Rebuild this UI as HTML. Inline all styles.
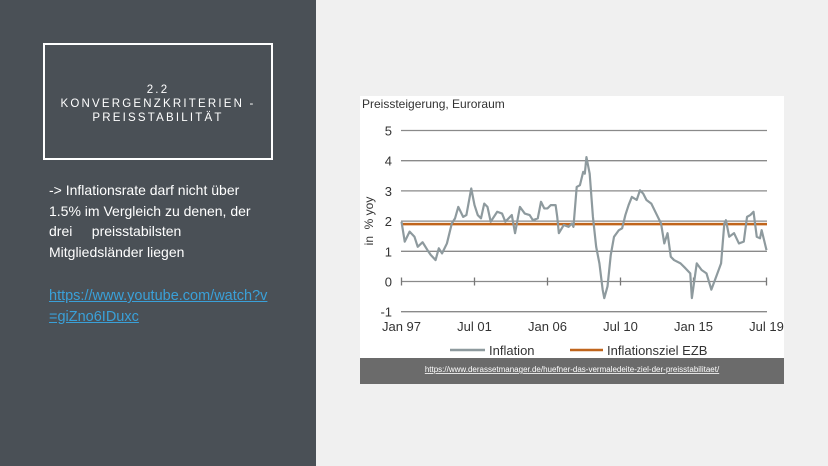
<!DOCTYPE html>
<html><head><meta charset="utf-8"><style>
body{margin:0;width:828px;height:466px;overflow:hidden;background:#f0f0f0;font-family:"Liberation Sans",sans-serif;position:relative}
#left{position:absolute;left:0;top:0;width:316px;height:466px;background:#4a5056}
#box{position:absolute;left:43px;top:43px;width:226px;height:113px;border:2px solid #fff;color:#fff;font-size:11.5px;letter-spacing:2.2px;text-align:center;line-height:14px;box-sizing:content-box}
#box div{padding-top:38px}
#txt{position:absolute;left:49px;top:180px;color:#fff;font-size:14px;line-height:20.5px;width:260px;white-space:nowrap}
#lnk{position:absolute;left:49px;top:286px;color:#3aa0d8;font-size:14.5px;line-height:20.5px;text-decoration:underline}
svg{position:absolute;left:0;top:0}
</style></head><body>
<div id="left"></div>
<div id="box"><div>2.2<br>KONVERGENZKRITERIEN -<br>PREISSTABILITÄT</div></div>
<div id="txt">-&gt; Inflationsrate darf nicht über<br>1.5% im Vergleich zu denen, der<br>drei &nbsp;&nbsp;&nbsp;&nbsp;preisstabilsten<br>Mitgliedsländer liegen</div>
<a id="lnk">https://www.youtube.com/watch?v<br>=giZno6IDuxc</a>
<svg width="828" height="466" id="chart">
<rect x="360" y="96" width="424" height="262" fill="#ffffff"/>
<text x="362" y="108" font-size="12" fill="#333">Preissteigerung, Euroraum</text>
<text transform="translate(373,221) rotate(-90)" text-anchor="middle" font-size="12" fill="#333" xml:space="preserve">in  % yoy</text>
<g id="grid"></g><g id="marks"></g>
<line x1="450" y1="350" x2="485" y2="350" stroke="#8e9a9e" stroke-width="2.5"/>
<text x="489" y="355" font-size="13" fill="#333">Inflation</text>
<line x1="570" y1="350" x2="603" y2="350" stroke="#c0651c" stroke-width="2.5"/>
<text x="607" y="355" font-size="13" fill="#333">Inflationsziel EZB</text>
<rect x="360" y="358" width="424" height="26" fill="#6b6b6b"/>
<text x="572" y="372" text-anchor="middle" font-size="8" fill="#fff" text-decoration="underline">https://www.derassetmanager.de/huefner-das-vermaledeite-ziel-der-preisstabilitaet/</text>
</svg>
<script>
const yTicks=[5,4,3,2,1,0,-1];
const xTickLabels=["Jan 97","Jul 01","Jan 06","Jul 10","Jan 15","Jul 19"];
const xTickYears=[1997,2001.5,2006,2010.5,2015,2019.5];
const target=[1.9];
const years=[1997.0,1997.2,1997.5,1997.8,1998.0,1998.3,1998.6,1998.8,1999.1,1999.3,1999.5,1999.8,2000.1,2000.3,2000.5,2000.8,2001.0,2001.3,2001.5,2001.7,2001.9,2002.1,2002.3,2002.5,2002.9,2003.2,2003.4,2003.6,2003.8,2004.0,2004.3,2004.6,2004.9,2005.1,2005.4,2005.6,2005.8,2006.0,2006.2,2006.5,2006.6,2006.7,2007.0,2007.3,2007.5,2007.6,2007.8,2008.0,2008.2,2008.3,2008.4,2008.6,2008.8,2009.0,2009.2,2009.4,2009.5,2009.7,2009.9,2010.1,2010.4,2010.6,2010.8,2011.0,2011.2,2011.5,2011.7,2011.9,2012.1,2012.4,2012.7,2013.0,2013.2,2013.4,2013.6,2013.8,2014.2,2014.5,2014.8,2014.9,2015.2,2015.5,2015.8,2016.1,2016.4,2016.7,2016.9,2017.0,2017.2,2017.5,2017.8,2018.1,2018.3,2018.5,2018.7,2018.9,2019.1,2019.2,2019.5];
const values=[1.98,1.32,1.65,1.48,1.15,1.3,1.04,0.88,0.71,1.1,0.93,1.26,1.92,2.09,2.47,2.14,2.2,3.08,2.53,2.2,2.09,2.58,2.47,1.98,2.31,2.25,1.98,2.09,2.2,1.6,2.47,2.25,2.2,2.03,2.09,2.64,2.42,2.42,2.53,2.53,2.14,1.6,1.87,1.81,1.92,1.81,3.13,3.19,3.63,3.57,4.12,3.57,2.14,1.15,0.6,-0.27,-0.55,-0.16,0.88,1.48,1.7,1.76,2.2,2.53,2.8,2.7,3.02,2.91,2.7,2.58,2.25,1.92,1.26,1.6,0.82,0.71,0.6,0.44,0.27,-0.55,0.6,0.38,0.27,-0.27,0.16,0.6,1.92,2.03,1.48,1.6,1.26,1.32,2.14,2.2,2.31,1.48,1.43,1.7,1.04];
const X=y=>401.5+(y-1997)*(365/22.5);
const Y=v=>281.5-v*30.2;
const NS="http://www.w3.org/2000/svg";
const grid=document.getElementById('grid'),marks=document.getElementById('marks');
function mk(tag,attrs,parent){const e=document.createElementNS(NS,tag);for(const k in attrs)e.setAttribute(k,attrs[k]);parent.appendChild(e);return e;}
yTicks.forEach(t=>{
  const l=mk('line',{x1:401,x2:767,y1:Y(t),y2:Y(t),stroke:'#8a8a8a','stroke-width':1.3},grid);
  
  
  const tx=mk('text',{x:392,y:Y(t)+5,'text-anchor':'end','font-size':13,fill:'#333'},grid);
  tx.textContent=t;
  
  
});
xTickYears.forEach((yr,i)=>{
  mk('line',{x1:X(yr),x2:X(yr),y1:Y(0)-4,y2:Y(0)+4,stroke:'#777','stroke-width':1.3},grid);
  const tx=mk('text',{x:X(yr),y:331,'text-anchor':'middle','font-size':13,fill:'#333'},grid);
  tx.textContent=xTickLabels[i];
  
  
});
const tl=mk('line',{x1:401,x2:767,y1:Y(target[0]),y2:Y(target[0]),stroke:'#c0651c','stroke-width':2.5},marks);


const p=mk('polyline',{points:years.map((y,i)=>X(y)+','+Y(values[i])).join(' '),fill:'none',stroke:'#8e9a9e','stroke-width':2.2,'stroke-linejoin':'round'},marks);


</script>
</body></html>
